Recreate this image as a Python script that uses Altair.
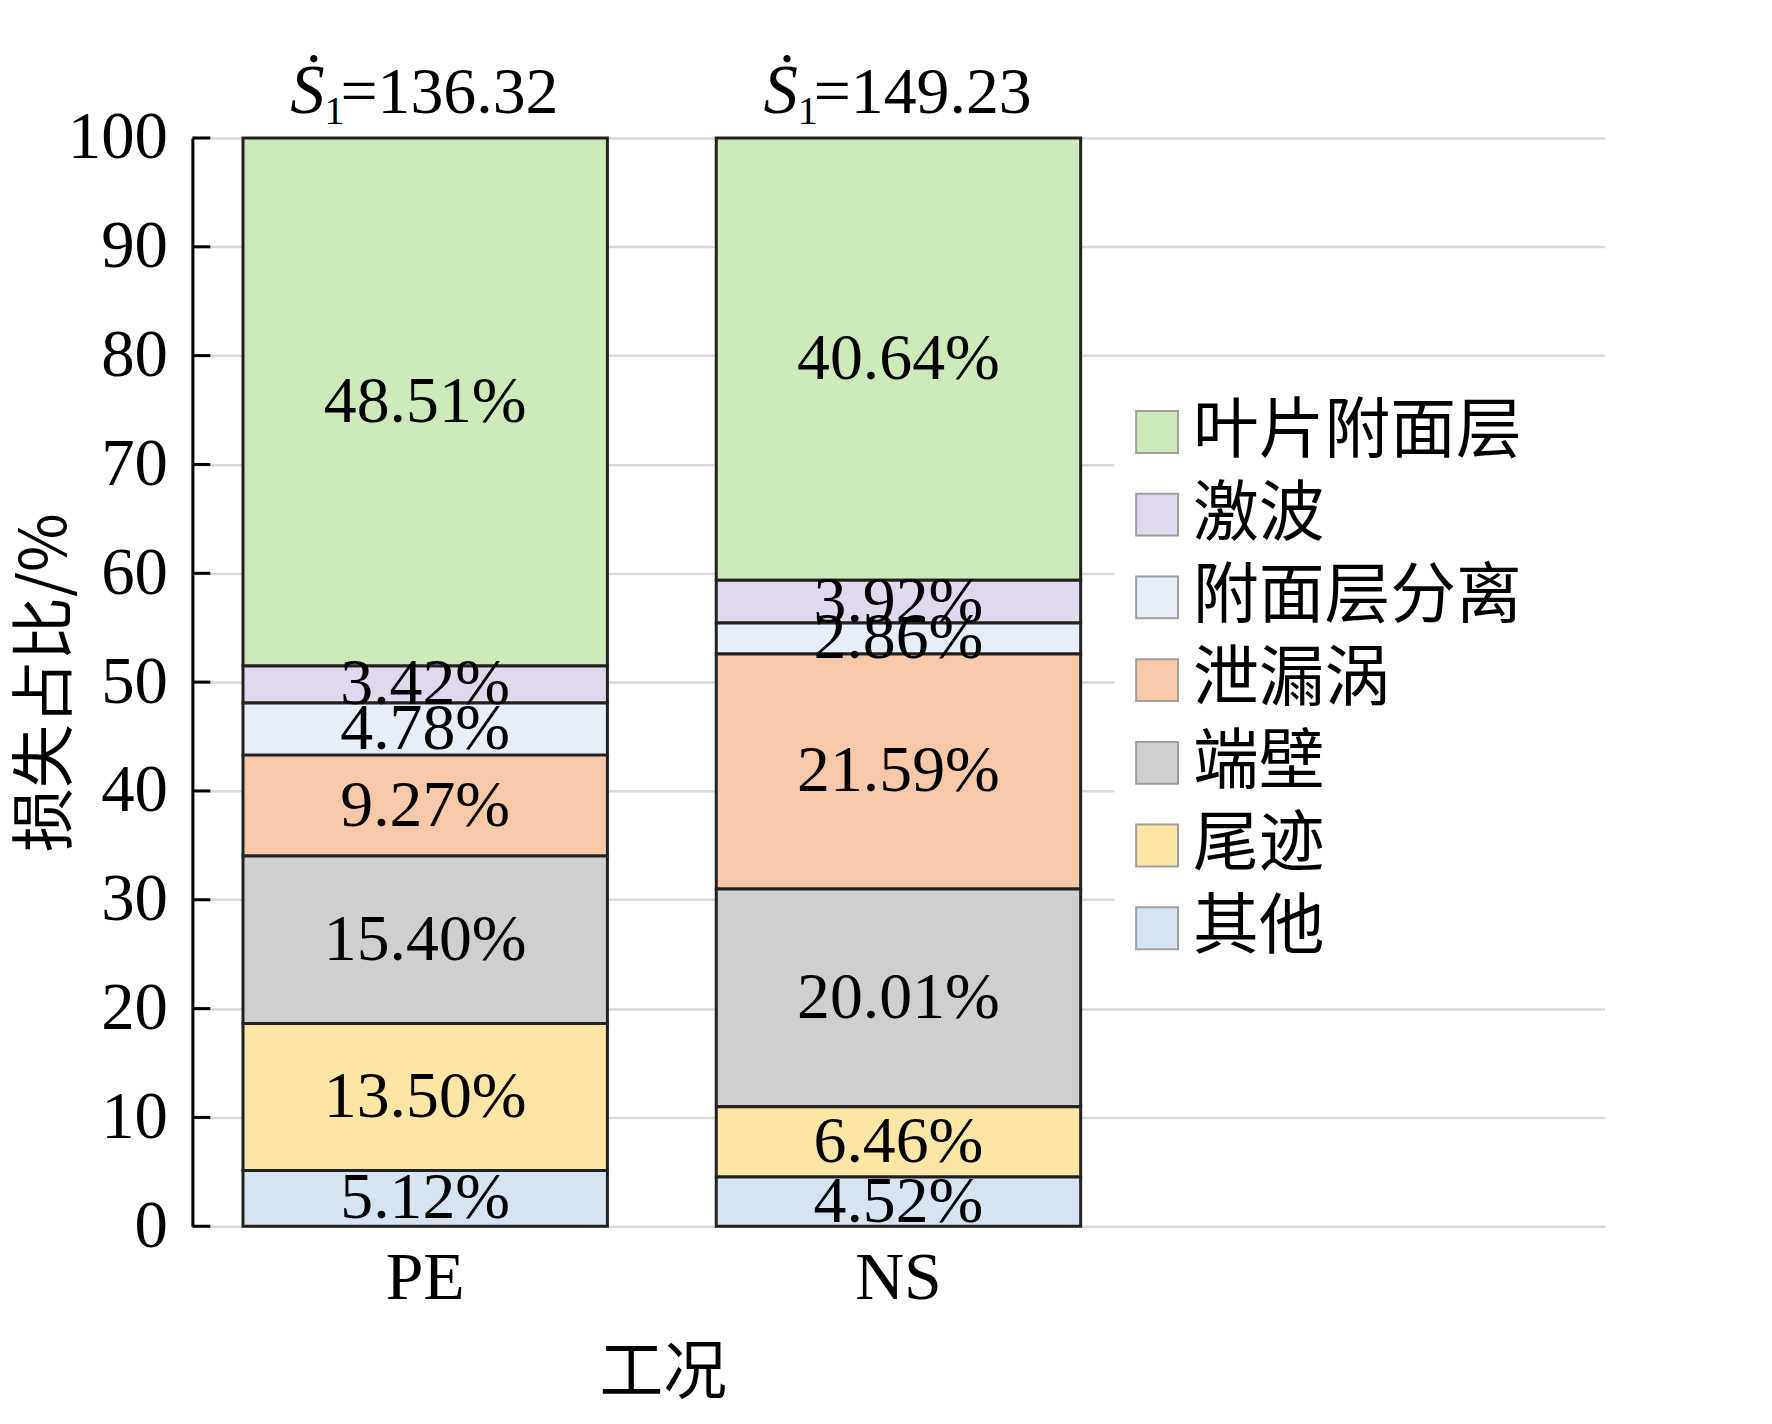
import altair as alt
import pandas as pd

# ---- data ----
categories = ["叶片附面层", "激波", "附面层分离", "泄漏涡", "端壁", "尾迹", "其他"]
colors = ["#cdeab8", "#e2d8ee", "#e6eef9", "#f8c9a8", "#cfcfcf", "#fbe6a6", "#d6e4f2"]
cases = ["PE", "NS"]
pe_values = [48.51, 3.42, 4.78, 9.27, 15.40, 13.50, 5.12]
ns_values = [40.64, 3.92, 2.86, 21.59, 20.01, 6.46, 4.52]
s_values = [136.32, 149.23]
y_ticks = [0, 10, 20, 30, 40, 50, 60, 70, 80, 90, 100]

rows = []
for case, vals in zip(cases, [pe_values, ns_values]):
    for i, (cat, v) in enumerate(zip(categories, vals)):
        rows.append({"case": case, "cat": cat, "value": v, "rank": len(categories) - 1 - i})
df = pd.DataFrame(rows)
df_s = pd.DataFrame({"case": cases, "s": s_values})
df_t = pd.DataFrame({"t": y_ticks})

SERIF = "Liberation Serif"
CJK = "Noto Sans CJK SC"
x_domain = ["PE", "NS", "_"]
xscale = alt.Scale(domain=x_domain, paddingInner=0.23, paddingOuter=0.107)

base = alt.Chart(df).transform_stack(
    stack="value", groupby=["case"], sort=[alt.SortField("rank", order="ascending")], as_=["v0", "v1"]
).transform_calculate(
    mid="(datum.v0 + datum.v1) / 2",
    label="format(datum.value, '.2f') + '%'",
)

bars = base.mark_bar(stroke="#222222", strokeWidth=3).encode(
    x=alt.X("case:N", scale=xscale, sort=x_domain,
            axis=alt.Axis(title="工况", titleFont=CJK, titleFontSize=64, titleFontWeight="normal",
                          titleColor="black", titleX=472, titleY=148, titleBaseline="middle",
                          titleAlign="center",
                          labelExpr="datum.value == '_' ? '' : datum.value",
                          labelFont=SERIF, labelFontSize=68, labelColor="black", labelAngle=0,
                          labelBaseline="middle", labelPadding=53,
                          ticks=False, tickSize=0, domain=False, grid=False)),
    y=alt.Y("v0:Q", scale=alt.Scale(domain=[0, 100], nice=False),
            axis=alt.Axis(title="损失占比/%", titleFont=CJK, titleFontSize=64, titleFontWeight="normal",
                          titleColor="black", titleAngle=270, titleX=-146, titleY=546,
                          titleBaseline="middle", titleAlign="center",
                          values=y_ticks, labelFont=SERIF, labelFontSize=67, labelColor="black",
                          labelPadding=25, ticks=False, tickSize=0,
                          domainColor="black", domainWidth=3,
                          grid=True, gridColor="#d9d9d9", gridWidth=2.5)),
    y2="v1:Q",
    color=alt.Color("cat:N", scale=alt.Scale(domain=categories, range=colors),
                    legend=alt.Legend(title=None, orient="none", legendX=925, legendY=252,
                                      fillColor="white", padding=10,
                                      symbolType="square", symbolSize=1764,
                                      symbolStrokeColor="#a0a0a0", symbolStrokeWidth=2,
                                      symbolOpacity=1,
                                      labelFont=CJK, labelFontSize=66, labelColor="black",
                                      labelOffset=3, rowPadding=17, labelLimit=700)),
)

# white box behind the legend that hides the grid lines there
legend_bg = alt.Chart(df_s).mark_rect(color="white").encode(
    x=alt.value(933), x2=alt.value(1440), y=alt.value(250), y2=alt.value(820))

labels = base.mark_text(font=SERIF, fontSize=66, color="black", baseline="middle").encode(
    x=alt.X("case:N", scale=xscale, sort=x_domain),
    y=alt.Y("mid:Q"),
    text="label:N",
)

title_base = alt.Chart(df_s).transform_calculate(eq="'=' + format(datum.s, '.2f')")
t_S = title_base.mark_text(font=SERIF, fontSize=69, fontStyle="italic", color="black",
                           align="right", baseline="alphabetic", dx=-101).encode(
    x=alt.X("case:N", scale=xscale, sort=x_domain), y=alt.value(-25), text=alt.value("Ṡ"))
t_1 = title_base.mark_text(font=SERIF, fontSize=40, color="black",
                           align="center", baseline="alphabetic", dx=-91).encode(
    x=alt.X("case:N", scale=xscale, sort=x_domain), y=alt.value(-14), text=alt.value("1"))
t_eq = title_base.mark_text(font=SERIF, fontSize=66, color="black",
                            align="left", baseline="alphabetic", dx=-85).encode(
    x=alt.X("case:N", scale=xscale, sort=x_domain), y=alt.value(-25), text="eq:N")

ticks = alt.Chart(df_t).mark_rule(color="black", strokeWidth=3).encode(
    y=alt.Y("t:Q"), x=alt.value(0), x2=alt.value(18))

chart = alt.layer(legend_bg, bars, labels, t_S, t_1, t_eq, ticks).properties(
    width=1417, height=1092,
    padding={"left": 185, "top": 128, "right": 160, "bottom": 190},
    autosize=alt.AutoSizeParams(type="none"),
).configure_view(strokeWidth=0)

chart.save("out.html", embed_options={"renderer": "svg", "actions": False})
